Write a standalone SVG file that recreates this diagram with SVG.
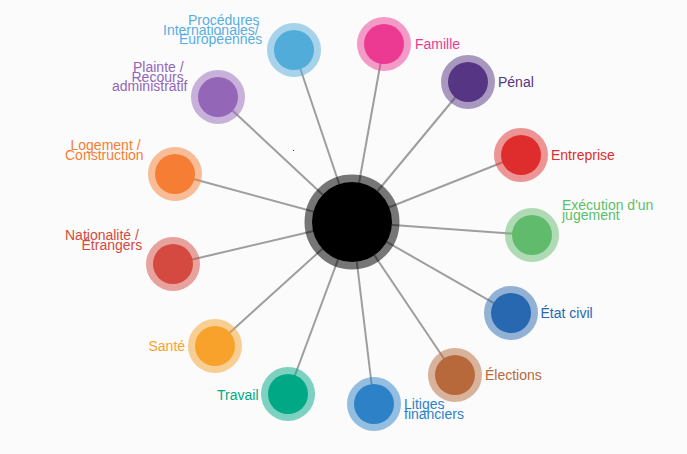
<svg xmlns="http://www.w3.org/2000/svg" width="687" height="454" viewBox="0 0 687 454">
<style>
text{font-family:"Liberation Sans",Arial,sans-serif;font-size:14px}
.n{stroke-width:14;stroke-opacity:.5}
.links line{stroke:#9e9e9e;stroke-width:2}
</style>
<rect width="687" height="454" fill="#fbfbfb"/>
<g class="links">
<line x1="352" y1="222" x2="294" y2="50"/>
<line x1="352" y1="222" x2="384" y2="44"/>
<line x1="352" y1="222" x2="468" y2="82"/>
<line x1="352" y1="222" x2="521" y2="155"/>
<line x1="352" y1="222" x2="532" y2="235"/>
<line x1="352" y1="222" x2="511" y2="313"/>
<line x1="352" y1="222" x2="455" y2="375"/>
<line x1="352" y1="222" x2="374" y2="404"/>
<line x1="352" y1="222" x2="288" y2="394"/>
<line x1="352" y1="222" x2="215" y2="346"/>
<line x1="352" y1="222" x2="173" y2="264"/>
<line x1="352" y1="222" x2="175" y2="174"/>
<line x1="352" y1="222" x2="218" y2="97"/>
</g>
<rect x="293" y="150" width="1" height="1" fill="#2b3a8f"/>
<g id="center"><circle cx="352" cy="222" r="40" fill="#000" stroke="#000" stroke-width="15" stroke-opacity=".53"/></g>
<g id="procedures"><circle class="n" cx="294" cy="50" r="20" fill="#52acd9" stroke="#52acd9"/>
<text fill="#58aee0"><tspan x="188" y="25">Procédures</tspan><tspan x="163" y="34.5">Internationales/</tspan><tspan x="179" y="44">Européennes</tspan></text></g>
<g id="famille"><circle class="n" cx="384" cy="44" r="20" fill="#ec3a93" stroke="#ec3a93"/>
<text x="415" y="49" fill="#ec3a93">Famille</text></g>
<g id="penal"><circle class="n" cx="468" cy="82" r="20" fill="#553584" stroke="#553584"/>
<text x="498" y="86.5" fill="#553584">Pénal</text></g>
<g id="entreprise"><circle class="n" cx="521" cy="155" r="20" fill="#df2d2d" stroke="#df2d2d"/>
<text x="551" y="160" fill="#df2d2d">Entreprise</text></g>
<g id="execution"><circle class="n" cx="532" cy="235" r="20" fill="#61bb6d" stroke="#61bb6d"/>
<text fill="#5cbf6b"><tspan x="562" y="210">Exécution d'un</tspan><tspan x="562" y="219.5">jugement</tspan></text></g>
<g id="etat-civil"><circle class="n" cx="511" cy="313" r="20" fill="#2768b0" stroke="#2768b0"/>
<text x="540.5" y="318" fill="#2768b0">État civil</text></g>
<g id="elections"><circle class="n" cx="455" cy="375" r="20" fill="#b8693c" stroke="#b8693c"/>
<text x="485" y="380" fill="#b8693c">Élections</text></g>
<g id="litiges"><circle class="n" cx="374" cy="404" r="20" fill="#2d82c7" stroke="#2d82c7"/>
<text fill="#2d82c7"><tspan x="404" y="409">Litiges</tspan><tspan x="404" y="418.5">financiers</tspan></text></g>
<g id="travail"><circle class="n" cx="288" cy="394" r="20" fill="#00a885" stroke="#00a885"/>
<text x="217" y="400" fill="#00a885">Travail</text></g>
<g id="sante"><circle class="n" cx="215" cy="346" r="20" fill="#f8a22c" stroke="#f8a22c"/>
<text x="148.5" y="351" fill="#f8a22c">Santé</text></g>
<g id="nationalite"><circle class="n" cx="173" cy="264" r="20" fill="#d44a40" stroke="#d44a40"/>
<text fill="#d44a40"><tspan x="65" y="240">Nationalité /</tspan><tspan x="81.5" y="249.5">Étrangers</tspan></text></g>
<g id="logement"><circle class="n" cx="175" cy="174" r="20" fill="#f57e34" stroke="#f57e34"/>
<text fill="#f57e34"><tspan x="70.5" y="149.5">Logement /</tspan><tspan x="65" y="159.5">Construction</tspan></text></g>
<g id="plainte"><circle class="n" cx="218" cy="97" r="20" fill="#9466b8" stroke="#9466b8"/>
<text fill="#9466b8"><tspan x="133" y="72">Plainte /</tspan><tspan x="131.5" y="81.5">Recours</tspan><tspan x="112" y="91">administratif</tspan></text></g>
</svg>
